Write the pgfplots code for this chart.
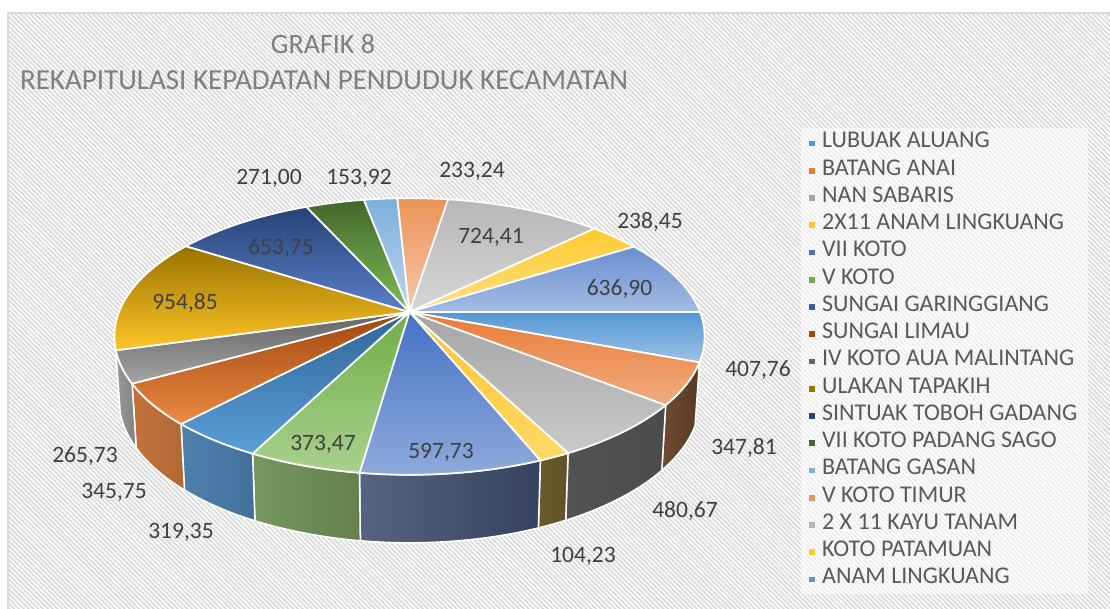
\documentclass[border=0pt]{standalone}
\usepackage{pgfplots}
\usepackage{pgfplotstable}
\usepackage{fontspec}
\setmainfont{Carlito}
\pgfplotsset{compat=1.18}
\usetikzlibrary{patterns.meta}

\definecolor{titlegray}{HTML}{7F7F7F}
\definecolor{labelgray}{HTML}{404040}
\definecolor{legendgray}{HTML}{595959}

% value, label centre (px), top face gradient, wall gradient
\pgfplotstableread[col sep=comma]{
name,value,lx,ly,top,bot,wl,wr
LUBUAK ALUANG,407.76,758,370,5597D3,9DC2E6,5B9BD5,5B9BD5
BATANG ANAI,347.81,744,448,E87C37,F1AC80,6E4A32,5A3A24
NAN SABARIS,480.67,685,511,A5A5A5,C9C9C9,525252,4C4C4C
2X11 ANAM LINGKUANG,104.23,583,556,FFC42E,FFD966,6A5A2C,62522A
VII KOTO,597.73,441,452,4472C4,8FAADC,566482,36425E
V KOTO,373.47,323,444,70AD47,A9D18E,76975F,64804E
SUNGAI GARINGGIANG,319.35,181,532,2F6598,5B9FD8,4F80AC,41709A
SUNGAI LIMAU,345.75,114,492,9E480E,ED8A45,C4713A,B06A35
IV KOTO AUA MALINTANG,265.73,85,456,636363,A5A5A5,9A9A9A,808080
ULAKAN TAPAKIH,954.85,185,303,997300,FFC527,997300,997300
SINTUAK TOBOH GADANG,653.75,281,248,264478,5B7EC8,264478,264478
VII KOTO PADANG SAGO,271.00,269,178,43682B,7FBA58,43682B,43682B
BATANG GASAN,153.92,359,178,7CAFDD,BDD6EE,7CAFDD,7CAFDD
V KOTO TIMUR,233.24,472,171,EC9358,F6C8AC,F1975A,F1975A
2 X 11 KAYU TANAM,724.41,491,237,B7B7B7,D6D6D6,B7B7B7,B7B7B7
KOTO PATAMUAN,238.45,650,222,FFC92E,FFE085,FFCD33,FFCD33
ANAM LINGKUANG,636.90,619.5,289,698ED0,A5BCE3,698ED0,698ED0
}\pietable

\def\pietotal{7109.02}

% perspective circle, top rim and bottom rim, in pixels
\newcommand{\rimpoint}[1]{%
  \pgfmathsetmacro\dn{1-0.177*sin(#1)}%
  \pgfmathsetmacro\rx{409.5+290.5*cos(#1)/\dn}%
  \pgfmathsetmacro\ry{312+134*sin(#1)/\dn}%
  \pgfmathsetmacro\sx{409.5+0.985*(\rx-409.5)}%
  \pgfmathsetmacro\sy{373.5+1.04*(\ry-312)}%
}
\newcommand{\slicepoints}[2]{%
  \xdef\ptsT{(409.5,312)}\xdef\ptsW{}\xdef\ptsB{}%
  \pgfmathtruncatemacro\nst{ceil((#2-#1)/2)+1}%
  \foreach \k in {0,...,\nst}{%
    \pgfmathsetmacro\ang{#1+(#2-#1)*\k/\nst}%
    \rimpoint{\ang}%
    \xdef\ptsT{\ptsT (\rx,\ry)}%
    \xdef\ptsW{\ptsW (\rx,\ry)}%
    \xdef\ptsB{(\sx,\sy) \ptsB}%
  }%
}

\begin{document}
\begin{tikzpicture}
\begin{axis}[
    scale only axis,
    width=1110pt, height=609pt,
    xmin=0, xmax=1110, ymin=0, ymax=609,
    y dir=reverse,
    hide axis,
    clip=true,
    legend style={
      at={(0.721,0.7895)}, anchor=north west,
      draw=none, fill=white, fill opacity=0.55, text opacity=1,
      font=\fontsize{24}{24}\selectfont,
      text=legendgray,
      row sep=0pt,
      inner xsep=9pt, inner ysep=1pt,
      nodes={text height=15pt, text depth=5.25pt, inner ysep=3.5pt},
      /tikz/every odd column/.append style={column sep=6pt},
    },
    legend cell align=left,
    /pgf/number format/.cd, use comma, fixed, fixed zerofill, precision=2, assume math mode=true,
  ]

% page and hatched chart area
\addplot[forget plot, fill=white, draw=none] coordinates {(0,0) (1110,0) (1110,609) (0,609)} -- cycle;
\addplot[forget plot, draw=none, pattern={Lines[angle=-45,distance=3.4pt,line width=1.7pt]}, pattern color=black!15]
  coordinates {(8,13) (1110,13) (1110,609) (8,609)} -- cycle;
\addplot[forget plot, draw=black!15, line width=1.4pt] coordinates {(8,609) (8,13) (1110,13)};

% outer walls
\def\cum{0}
\pgfplotsforeachungrouped \i in {0,...,8}{%
  \pgfplotstablegetelem{\i}{value}\of\pietable \let\val\pgfplotsretval
  \pgfmathsetmacro\aa{\cum/\pietotal*360}%
  \pgfmathsetmacro\cum{\cum+\val}%
  \pgfmathsetmacro\bb{\cum/\pietotal*360}%
  \pgfplotstablegetelem{\i}{wl}\of\pietable \definecolor{wl\i}{HTML}{\pgfplotsretval}%
  \pgfplotstablegetelem{\i}{wr}\of\pietable \definecolor{wr\i}{HTML}{\pgfplotsretval}%
  \ifnum\i>0
    \slicepoints{\aa}{\bb}%
    \edef\cmd{\noexpand\addplot[forget plot, shade, left color=wl\i, right color=wr\i,
      draw=white, line width=1.5pt, line join=round] coordinates {\ptsW\space\ptsB} -- cycle;}%
    \cmd
  \fi
}

% top faces and legend keys
\def\cum{0}
\pgfplotsforeachungrouped \i in {0,...,16}{%
  \pgfplotstablegetelem{\i}{value}\of\pietable \let\val\pgfplotsretval
  \pgfmathsetmacro\aa{\cum/\pietotal*360}%
  \pgfmathsetmacro\cum{\cum+\val}%
  \pgfmathsetmacro\bb{\cum/\pietotal*360}%
  \pgfplotstablegetelem{\i}{top}\of\pietable \definecolor{ct\i}{HTML}{\pgfplotsretval}%
  \pgfplotstablegetelem{\i}{bot}\of\pietable \definecolor{cb\i}{HTML}{\pgfplotsretval}%
  \pgfplotstablegetelem{\i}{name}\of\pietable \let\nm\pgfplotsretval
  \slicepoints{\aa}{\bb}%
  \edef\cmd{\noexpand\addplot[forget plot, shade, top color=ct\i, bottom color=cb\i,
    draw=white, line width=1.7pt, line join=round] coordinates {\ptsT} -- cycle;
    \noexpand\addlegendimage{only marks, mark=square*, mark size=2.3pt,
      mark options={fill=ct\i, draw=ct\i, line width=0.1pt, fill opacity=1, draw opacity=1}}
    \noexpand\addlegendentry{\nm}}%
  \cmd
}

% data labels
\pgfplotsforeachungrouped \i in {0,...,16}{%
  \pgfplotstablegetelem{\i}{value}\of\pietable \let\val\pgfplotsretval
  \pgfplotstablegetelem{\i}{lx}\of\pietable \let\lx\pgfplotsretval
  \pgfplotstablegetelem{\i}{ly}\of\pietable \let\ly\pgfplotsretval
  \edef\cmd{\noexpand\node[text=labelgray, font=\noexpand\fontsize{23.5}{23.5}\noexpand\selectfont]
    at (axis cs:\lx,\ly) {\noexpand\pgfmathprintnumber{\val}};}%
  \cmd
}

\node[text=titlegray, font=\fontsize{28}{28}\selectfont] at (axis cs:323,44) {GRAFIK 8};
\node[text=titlegray, font=\fontsize{29}{29}\selectfont] at (axis cs:324,80) {REKAPITULASI KEPADATAN PENDUDUK KECAMATAN};
\end{axis}
\end{tikzpicture}
\end{document}
